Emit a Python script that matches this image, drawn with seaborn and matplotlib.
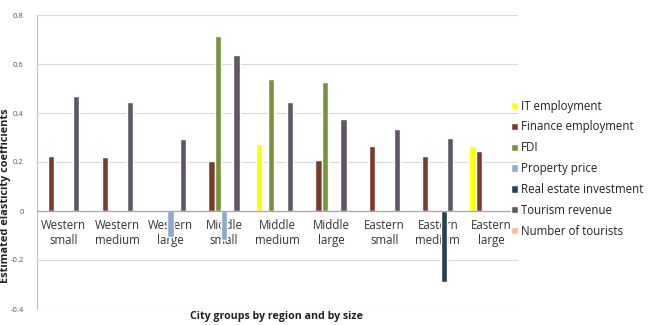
import matplotlib
matplotlib.use("Agg")
import matplotlib.pyplot as plt
import seaborn as sns
import pandas as pd
import numpy as np

categories = ["Western\nsmall", "Western\nmedium", "Western\nlarge", "Middle\nsmall",
              "Middle\nmedium", "Middle\nlarge", "Eastern\nsmall", "Eastern\nmedium", "Eastern\nlarge"]
series = ["IT employment", "Finance employment", "FDI", "Property price",
          "Real estate investment", "Tourism revenue", "Number of tourists"]
nan = np.nan
it_employment = [nan, nan, nan, nan, 0.272, nan, nan, nan, 0.267]
finance_employment = [0.224, 0.222, nan, 0.203, nan, 0.207, 0.267, 0.224, 0.246]
fdi = [nan, nan, nan, 0.716, 0.540, 0.525, nan, nan, nan]
property_price = [nan, nan, -0.105, -0.118, nan, nan, nan, nan, nan]
real_estate_investment = [nan, nan, nan, nan, nan, nan, nan, -0.289, nan]
tourism_revenue = [0.470, 0.444, 0.295, 0.637, 0.444, 0.377, 0.333, 0.300, nan]
number_of_tourists = [nan] * 9
colors = ["#FFFF00", "#7B3B2A", "#77933C", "#8DA9CF", "#26404F", "#5F5468", "#F9BF8A"]

values = [it_employment, finance_employment, fdi, property_price,
          real_estate_investment, tourism_revenue, number_of_tourists]
rows = []
for s, vals in zip(series, values):
    for c, v in zip(categories, vals):
        rows.append({"group": c, "series": s, "value": v})
df = pd.DataFrame(rows)

sns.set_theme(style="white")
plt.rcParams["font.family"] = ["Open Sans", "DejaVu Sans"]

fig = plt.figure(figsize=(6.48, 3.25), dpi=100)
ax = fig.add_axes([37 / 648, 1 - 309 / 325, (518 - 37) / 648, (309 - 15) / 325])

sns.barplot(data=df, x="group", y="value", hue="series", order=categories,
            hue_order=series, palette=colors, width=0.82, ax=ax,
            errorbar=None, saturation=1, dodge=True)

ax.set_xlim(-0.5, 8.5)
ax.set_ylim(-0.4, 0.8)
ax.set_yticks([-0.4, -0.2, 0, 0.2, 0.4, 0.6, 0.8])
ax.set_yticklabels(["-0.4", "-0.2", "0", "0.2", "0.4", "0.6", "0.8"])
ax.tick_params(axis="y", labelsize=5.5, labelcolor="#555555", length=0, pad=9.5)
ax.tick_params(axis="x", labelsize=8.3, labelcolor="#333333", length=0, pad=6)
for lab in ax.get_xticklabels():
    lab.set_linespacing(1.15)
ax.yaxis.grid(True, color="#D9D9D9", linewidth=0.8)
ax.set_axisbelow(True)
for side in ["top", "right"]:
    ax.spines[side].set_visible(False)
ax.spines["left"].set_color("#BFBFBF")
ax.spines["left"].set_linewidth(0.8)
ax.spines["bottom"].set_position(("data", 0))
ax.spines["bottom"].set_color("#A6A6A6")
ax.spines["bottom"].set_linewidth(0.9)

ax.set_xlabel("")
ax.set_ylabel("")
fig.text(5.5 / 648, 1 - 196 / 325, "Estimated elasticity coefficients", rotation=90,
         ha="center", va="center", fontsize=7.9, fontweight="bold", color="#222222")
fig.text(277 / 648, 1 - 317 / 325, "City groups by region and by size",
         ha="center", va="center", fontsize=7.7, fontweight="bold", color="#222222")

handles, labels = ax.get_legend_handles_labels()
leg = fig.legend(handles, labels, loc="upper left", bbox_to_anchor=(506 / 648, 1 - 95 / 325),
                 frameon=False, fontsize=8.3, handlelength=0.6, handleheight=0.6,
                 handletextpad=0.3, labelspacing=0.68, borderaxespad=0)
for t in leg.get_texts():
    t.set_color("#222222")
if ax.get_legend():
    ax.get_legend().remove()

fig.savefig("out.png", dpi=100)
